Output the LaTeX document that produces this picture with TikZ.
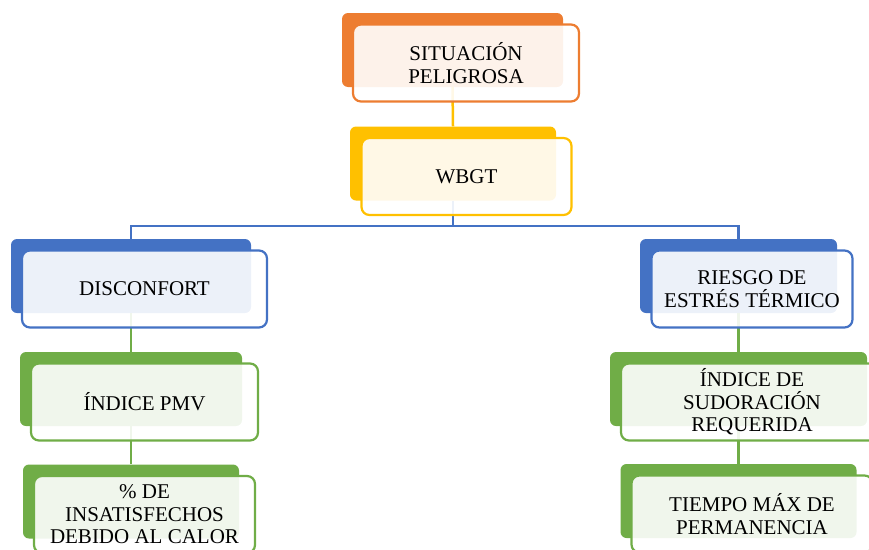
\documentclass[tikz,border=0pt]{standalone}
\usepackage{fontspec}
\setmainfont{Liberation Serif}
\definecolor{hOrange}{HTML}{ED7D31}
\definecolor{hGold}{HTML}{FFC000}
\definecolor{hBlue}{HTML}{4472C4}
\definecolor{hGreen}{HTML}{70AD47}

\begin{document}
\begin{tikzpicture}[
  x=1pt, y=-1pt,
  backbox/.style={rectangle, rounded corners=6pt, fill=#1, minimum height=74pt, inner sep=0pt},
  frontbox/.style={rectangle, rounded corners=8pt, draw=#1, line width=2.2pt, fill=white, fill opacity=0.9,
    text opacity=1, minimum height=77pt, inner sep=0pt, align=center,
    font=\fontsize{21}{22.5}\selectfont, xshift=13.5pt, yshift=-13pt},
  link/.style={draw=#1, line width=2.5pt}
]
\useasboundingbox (0,0) rectangle (869,549);
\clip (0,0) rectangle (869,549);

\node[backbox=hOrange, minimum width=221pt] (sit-b) at (452.5,50) {};
\node[backbox=hGold, minimum width=206pt] (wbgt-b) at (453,163.5) {};
\node[backbox=hBlue, minimum width=240pt] (dis-b) at (131,276) {};
\node[backbox=hBlue, minimum width=197pt] (rie-b) at (738.5,276) {};
\node[backbox=hGreen, minimum width=222pt] (pmv-b) at (131,389) {};
\node[backbox=hGreen, minimum width=216pt] (ins-b) at (131,501.5) {};
\node[backbox=hGreen, minimum width=257pt] (sud-b) at (738.5,389) {};
\node[backbox=hGreen, minimum width=236pt] (tie-b) at (738.5,501) {};

\coordinate (bus) at (453,226);
\draw[link=hGold] (sit-b.south) -- (wbgt-b.north);
\draw[link=hBlue] (wbgt-b.south) -- (bus);
\draw[link=hBlue] (dis-b.north) |- (bus) -| (rie-b.north);
\draw[link=hGreen] (dis-b.south) -- (pmv-b.north);
\draw[link=hGreen] (pmv-b.south) -- (ins-b.north);
\draw[link=hGreen] (rie-b.south) -- (sud-b.north);
\draw[link=hGreen] (sud-b.south) -- (tie-b.north);

\node[frontbox=hOrange, minimum width=226pt] (sit) at (sit-b) {SITUACIÓN\\PELIGROSA};
\node[frontbox=hGold, minimum width=210pt] (wbgt) at (wbgt-b) {WBGT};
\node[frontbox=hBlue, minimum width=245pt] (dis) at (dis-b) {DISCONFORT};
\node[frontbox=hBlue, minimum width=201pt] (rie) at (rie-b) {RIESGO DE\\ESTRÉS TÉRMICO};
\node[frontbox=hGreen, minimum width=227pt] (pmv) at (pmv-b) {ÍNDICE PMV};
\node[frontbox=hGreen, minimum width=221pt] (ins) at (ins-b) {\% DE\\INSATISFECHOS\\DEBIDO AL CALOR};
\node[frontbox=hGreen, minimum width=262pt] (sud) at (sud-b) {ÍNDICE DE\\SUDORACIÓN\\REQUERIDA};
\node[frontbox=hGreen, minimum width=241pt] (tie) at (tie-b) {TIEMPO MÁX DE\\PERMANENCIA};
\end{tikzpicture}
\end{document}
